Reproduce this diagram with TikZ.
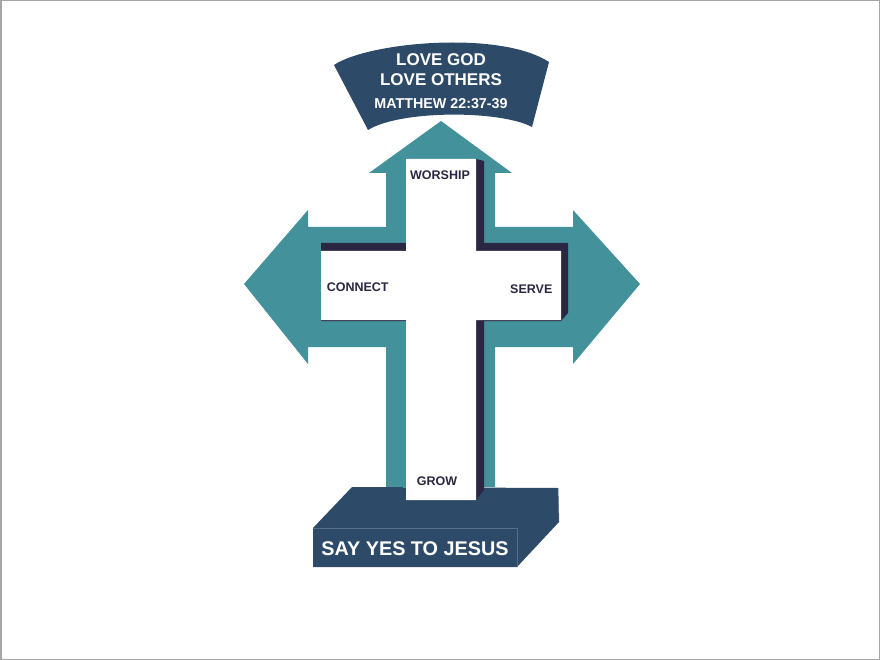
\documentclass[tikz,border=0pt]{standalone}
\usepackage{fontspec}
\setmainfont{Liberation Sans}

\definecolor{armteal}{RGB}{67,145,155}
\definecolor{basenavy}{RGB}{45,75,104}
\definecolor{crossshadow}{RGB}{41,39,65}

\tikzset{
    crosslabel/.style={font=\bfseries\fontsize{12.5}{14}\selectfont, text=crossshadow, inner sep=0pt},
    bannertext/.style={font=\bfseries\fontsize{17}{20}\selectfont, text=white, inner sep=0pt},
    edgeline/.style={draw=basenavy!80!white, line width=0.5pt}
}

\begin{document}
\begin{tikzpicture}[x=1pt, y=-1pt]
        \useasboundingbox (0,0) rectangle (880,660);
        \draw[gray!70, line width=1.5pt] (0.75,0.75) rectangle (879.25,659.25);

        % arrows behind the cross
        \fill[armteal] (441,121) -- (512,173) -- (495,173) -- (495,227) -- (573,227) -- (573,210)
            -- (640,284) -- (573,364) -- (573,347) -- (495,347) -- (495,487) -- (386,487)
            -- (386,347) -- (308,347) -- (308,364) -- (244,284) -- (308,210) -- (308,227)
            -- (386,227) -- (386,173) -- (369,173) -- cycle;

        % banner
        \fill[basenavy] (334,65) .. controls (368,42) and (500,30) .. (549,62)
            -- (532,127) .. controls (500,110) and (400,110) .. (368,130) -- cycle;

        % base
        \fill[basenavy] (313,528) -- (352,487) -- (558,488) -- (559,522) -- (517,567) -- (313,567) -- cycle;
        \draw[edgeline] (313,528) -- (517,528) -- (517,567);
        \draw[edgeline] (558,488) -- (559,522);

        % cross with its shadow
        \fill[crossshadow] (321,243) -- (476,243) -- (476,159) -- (484,161) -- (484,243) -- (568,243)
            -- (568,313) -- (561,321) -- (484,321) -- (484,490) -- (476,500) -- (476,321)
            -- (321,321) -- cycle;
        \fill[white] (406,159) -- (476,159) -- (476,251) -- (561,251) -- (561,320) -- (476,320)
            -- (476,500) -- (406,500) -- (406,320) -- (321,320) -- (321,251) -- (406,251) -- cycle;

        \node[bannertext] (lovegod) at (441,60) {LOVE GOD};
        \node[bannertext] (loveothers) at (441,80) {LOVE OTHERS};
        \node[bannertext, font=\bfseries\fontsize{14.3}{17}\selectfont] (verse) at (441,103.3) {MATTHEW 22:37-39};

        \node[crosslabel] (worship) at (440,175) {WORSHIP};
        \node[crosslabel] (connect) at (357.7,287.5) {CONNECT};
        \node[crosslabel] (serve) at (531.3,289.5) {SERVE};
        \node[crosslabel] (grow) at (437,480.7) {GROW};

        \node[bannertext, font=\bfseries\fontsize{19.8}{23}\selectfont] (sayyes) at (415,548.3) {SAY YES TO JESUS};
    \end{tikzpicture}
\end{document}
